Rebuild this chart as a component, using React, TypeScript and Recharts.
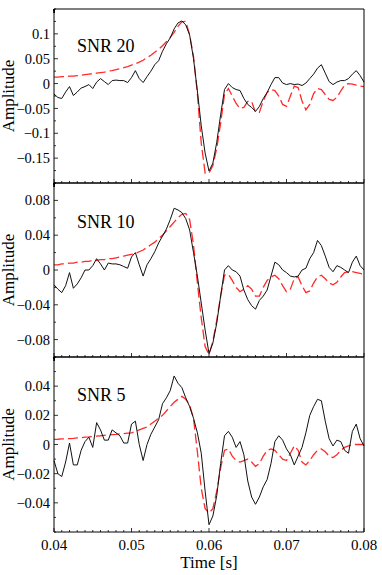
import React from "react";
import { LineChart, Line, XAxis, YAxis } from "recharts";

const FONT = "'Liberation Serif', 'Times New Roman', serif";

// sample times [s]
const time = [
  0.04, 0.0405, 0.041, 0.0415, 0.042, 0.0425, 0.043, 0.0435, 0.044, 0.0445,
  0.045, 0.0455, 0.046, 0.0465, 0.047, 0.0475, 0.048, 0.0485, 0.049, 0.0495,
  0.05, 0.0505, 0.051, 0.0515, 0.052, 0.0525, 0.053, 0.0535, 0.054, 0.0545,
  0.055, 0.0555, 0.056, 0.0565, 0.057, 0.0575, 0.058, 0.0585, 0.059, 0.0595,
  0.06, 0.0605, 0.061, 0.0615, 0.062, 0.0625, 0.063, 0.0635, 0.064, 0.0645,
  0.065, 0.0655, 0.066, 0.0665, 0.067, 0.0675, 0.068, 0.0685, 0.069, 0.0695,
  0.07, 0.0705, 0.071, 0.0715, 0.072, 0.0725, 0.073, 0.0735, 0.074, 0.0745,
  0.075, 0.0755, 0.076, 0.0765, 0.077, 0.0775, 0.078, 0.0785, 0.079, 0.0795,
  0.08,
];

// SNR 20
const snr20Noisy = [
  -0.021, -0.028, -0.03, -0.017, -0.006, -0.024, -0.017, -0.009, -0.006, -0.002,
  -0.01, 0.003, 0.01, 0.004, -0.002, 0.006, 0.007, 0.006, 0.006, 0.002,
  0.012, 0.026, 0.01, 0.002, 0.014, 0.025, 0.038, 0.046, 0.065, 0.08,
  0.092, 0.11, 0.122, 0.126, 0.118, 0.098, 0.05, -0.015, -0.085, -0.14,
  -0.176, -0.16, -0.118, -0.063, -0.012, 0.0, -0.008, -0.012, -0.014, -0.03,
  -0.042, -0.048, -0.056, -0.046, -0.03, -0.018, -0.002, 0.012, 0.012, 0.001,
  -0.002, 0.0, -0.002, -0.001, -0.004, 0.001, 0.01, 0.019, 0.031, 0.038,
  0.021, 0.004, -0.002, 0.003, 0.006, 0.006, 0.01, 0.019, 0.026, 0.016,
  0.003,
];
const snr20Model = [
  0.013, 0.013, 0.014, 0.014, 0.015, 0.015, 0.016, 0.017, 0.018, 0.019,
  0.02, 0.021, 0.022, 0.023, 0.025, 0.026, 0.028, 0.03, 0.032, 0.034,
  0.037, 0.04, 0.043, 0.047, 0.052, 0.057, 0.063, 0.069, 0.076, 0.084,
  0.093, 0.103, 0.115, 0.124, 0.125, 0.098, 0.055, -0.02, -0.12, -0.18,
  -0.18, -0.165, -0.13, -0.08, -0.022, -0.01, -0.025, -0.04, -0.05, -0.048,
  -0.036, -0.036, -0.058, -0.058, -0.035, -0.018, -0.012, -0.014, -0.025, -0.042,
  -0.046, -0.025, -0.005, -0.008, -0.035, -0.053, -0.042, -0.02, -0.01, -0.012,
  -0.022, -0.032, -0.034, -0.028, -0.015, -0.003, 0.0, -0.001, -0.003, -0.005,
  -0.006,
];

// SNR 10
const snr10Noisy = [
  -0.017, -0.022, -0.026, -0.018, -0.003, -0.021, -0.016, -0.009, 0.0, 0.0,
  0.005, 0.013, 0.007, 0.0, 0.008, 0.007, 0.007, 0.006, 0.004, 0.002,
  0.015, 0.02, 0.006, -0.007, 0.006, 0.013, 0.021, 0.031, 0.039, 0.047,
  0.058, 0.071, 0.069, 0.066, 0.059, 0.046, 0.02, -0.007, -0.038, -0.069,
  -0.096, -0.084, -0.061, -0.03, 0.0, 0.005, 0.0, -0.002, -0.007, -0.023,
  -0.034, -0.041, -0.045, -0.035, -0.03, -0.023, -0.007, 0.009, 0.006, 0.0,
  -0.003, -0.007, -0.008, -0.007, 0.0, 0.002, 0.013, 0.02, 0.034, 0.028,
  0.016, 0.003, -0.002, 0.005, 0.003, 0.0, -0.003, 0.009, 0.016, 0.005,
  0.0,
];
const snr10Model = [
  0.006, 0.006, 0.007, 0.007, 0.008, 0.008, 0.009, 0.009, 0.01, 0.01,
  0.011, 0.011, 0.012, 0.012, 0.013, 0.013, 0.014, 0.015, 0.016, 0.017,
  0.018, 0.019, 0.021, 0.023, 0.026, 0.029, 0.032, 0.036, 0.04, 0.045,
  0.05, 0.055, 0.06, 0.064, 0.065, 0.058, 0.029, -0.015, -0.055, -0.088,
  -0.097, -0.082, -0.058, -0.03, -0.006, -0.005, -0.012, -0.02, -0.025, -0.022,
  -0.018, -0.022, -0.03, -0.03, -0.02, -0.012, -0.008, -0.006, -0.01, -0.018,
  -0.025, -0.022, -0.01, -0.008, -0.018, -0.026, -0.024, -0.015, -0.008, -0.006,
  -0.01, -0.015, -0.017, -0.014, -0.008, -0.003, -0.002, -0.002, -0.003, -0.004,
  -0.005,
];

// SNR 5
const snr5Noisy = [
  -0.011, -0.02, -0.022, -0.012, 0.001, -0.014, -0.014, -0.004, 0.002, 0.005,
  -0.002, 0.015, 0.01, 0.003, 0.003, 0.01, 0.008, 0.006, 0.001, 0.001,
  0.014, 0.016, 0.0, -0.011, 0.0, 0.007, 0.012, 0.017, 0.028, 0.032,
  0.037, 0.047, 0.042, 0.039, 0.032, 0.026, 0.018, 0.008, -0.006, -0.032,
  -0.055, -0.049, -0.035, -0.013, 0.006, 0.009, 0.005, -0.002, 0.002, -0.007,
  -0.025, -0.036, -0.041, -0.036, -0.029, -0.024, -0.013, 0.002, 0.006, 0.003,
  -0.003, -0.007, -0.014, -0.008, -0.002, 0.008, 0.02, 0.026, 0.031, 0.03,
  0.016, 0.004, -0.001, 0.003, 0.002, -0.004, -0.006, 0.009, 0.014, 0.004,
  -0.001,
];
const snr5Model = [
  0.0035, 0.0036, 0.0038, 0.0039, 0.004, 0.0042, 0.0045, 0.0047, 0.005, 0.0052,
  0.0055, 0.0058, 0.006, 0.0063, 0.0065, 0.0068, 0.007, 0.0073, 0.0075, 0.0078,
  0.008, 0.009, 0.01, 0.011, 0.012, 0.014, 0.016, 0.018, 0.02, 0.023,
  0.026, 0.029, 0.031, 0.033, 0.031, 0.027, 0.018, -0.005, -0.03, -0.044,
  -0.047, -0.044, -0.032, -0.016, -0.004, -0.003, -0.008, -0.011, -0.012, -0.011,
  -0.01, -0.012, -0.015, -0.013, -0.008, -0.004, -0.003, -0.004, -0.007, -0.01,
  -0.011, -0.006, -0.001, -0.004, -0.012, -0.014, -0.011, -0.007, -0.004, -0.003,
  -0.005, -0.008, -0.009, -0.007, -0.004, -0.002, -0.001, 0.0, 0.0, 0.0,
  0.0,
];

// axis ticks
const xTicks = [
  0.04, 0.041, 0.042, 0.043, 0.044, 0.045, 0.046, 0.047, 0.048, 0.049,
  0.05, 0.051, 0.052, 0.053, 0.054, 0.055, 0.056, 0.057, 0.058, 0.059,
  0.06, 0.061, 0.062, 0.063, 0.064, 0.065, 0.066, 0.067, 0.068, 0.069,
  0.07, 0.071, 0.072, 0.073, 0.074, 0.075, 0.076, 0.077, 0.078, 0.079,
  0.08,
];
const xLabels = [0.04, 0.05, 0.06, 0.07, 0.08];

const y20Ticks = [-0.2, -0.175, -0.15, -0.125, -0.1, -0.075, -0.05, -0.025, 0, 0.025, 0.05, 0.075, 0.1, 0.125, 0.15];
const y20Labels = [-0.15, -0.1, -0.05, 0, 0.05, 0.1];
const y10Ticks = [-0.1, -0.08, -0.06, -0.04, -0.02, 0, 0.02, 0.04, 0.06, 0.08, 0.1];
const y10Labels = [-0.08, -0.04, 0, 0.04, 0.08];
const y5Ticks = [-0.06, -0.05, -0.04, -0.03, -0.02, -0.01, 0, 0.01, 0.02, 0.03, 0.04, 0.05, 0.06];
const y5Labels = [-0.04, -0.02, 0, 0.02, 0.04];

const panels = [
  { title: "SNR 20", noisy: snr20Noisy, model: snr20Model, domain: [-0.2, 0.15], ticks: y20Ticks, labels: y20Labels },
  { title: "SNR 10", noisy: snr10Noisy, model: snr10Model, domain: [-0.1, 0.1], ticks: y10Ticks, labels: y10Labels },
  { title: "SNR 5", noisy: snr5Noisy, model: snr5Model, domain: [-0.06, 0.06], ticks: y5Ticks, labels: y5Labels },
];

const fmt = (v: number) => {
  if (Math.abs(v) < 1e-12) return "0";
  const s = String(parseFloat(Math.abs(v).toFixed(4)));
  return (v < 0 ? "\u2212" : "") + s;
};

function AxisTick(props: any) {
  const { x, y, payload, side, labels, showText } = props;
  const v = payload.value;
  const major = labels.some((l: number) => Math.abs(l - v) < 1e-9);
  const len = major ? 4 : 2;
  let line = null;
  let text = null;
  if (side === "bottom") {
    line = <line x1={x} y1={y} x2={x} y2={y - len} />;
    if (showText && major)
      text = (
        <text x={x} y={y + 18} textAnchor="middle" fontSize={15} fontFamily={FONT} fill="#000">
          {fmt(v)}
        </text>
      );
  } else if (side === "top") {
    line = <line x1={x} y1={y} x2={x} y2={y + len} />;
  } else if (side === "left") {
    line = <line x1={x} y1={y} x2={x + len} y2={y} />;
    if (major)
      text = (
        <text x={x - 4} y={y} dy="0.35em" textAnchor="end" fontSize={14.5} fontFamily={FONT} fill="#000">
          {fmt(v)}
        </text>
      );
  } else {
    line = <line x1={x} y1={y} x2={x - len} y2={y} />;
  }
  return (
    <g>
      <g stroke="#000" strokeWidth={0.8}>{line}</g>
      {text}
    </g>
  );
}

function Panel({ p, top, height, bottomAxis, last }: any) {
  const data = time.map((t, i) => ({ t, noisy: p.noisy[i], model: p.model[i] }));
  const axisLine = { stroke: "#000", strokeWidth: 1 };
  return (
    <div style={{ position: "absolute", left: 0, top }}>
      <LineChart width={382} height={height} data={data} margin={{ top: 8, right: 17, bottom: 0, left: 0 }}>
        <XAxis
          xAxisId="bottom"
          dataKey="t"
          type="number"
          domain={[0.04, 0.08]}
          ticks={xTicks}
          interval={0}
          height={bottomAxis}
          tickSize={0}
          tickMargin={0}
          tickLine={false}
          axisLine={axisLine}
          tick={<AxisTick side="bottom" labels={xLabels} showText={last} />}
          label={
            last
              ? {
                  content: ({ viewBox }: any) => (
                    <text
                      x={viewBox.x + viewBox.width / 2}
                      y={viewBox.y + 36}
                      textAnchor="middle"
                      fontSize={17}
                      fontFamily={FONT}
                      fill="#000"
                    >
                      Time [s]
                    </text>
                  ),
                }
              : undefined
          }
        />
        <XAxis
          xAxisId="top"
          orientation="top"
          type="number"
          domain={[0.04, 0.08]}
          ticks={xTicks}
          interval={0}
          height={1}
          tickSize={0}
          tickMargin={0}
          tickLine={false}
          axisLine={axisLine}
          tick={<AxisTick side="top" labels={xLabels} />}
        />
        <YAxis
          yAxisId="left"
          type="number"
          domain={p.domain}
          ticks={p.ticks}
          interval={0}
          width={54}
          tickSize={0}
          tickMargin={0}
          tickLine={false}
          axisLine={axisLine}
          tick={<AxisTick side="left" labels={p.labels} />}
          label={{
            content: ({ viewBox }: any) => {
              const cx = 14;
              const cy = viewBox.y + viewBox.height / 2;
              return (
                <text
                  x={cx}
                  y={cy}
                  transform={`rotate(-90 ${cx} ${cy})`}
                  textAnchor="middle"
                  fontSize={17}
                  fontFamily={FONT}
                  fill="#000"
                >
                  Amplitude
                </text>
              );
            },
          }}
        />
        <YAxis
          yAxisId="right"
          orientation="right"
          type="number"
          domain={p.domain}
          ticks={p.ticks}
          interval={0}
          width={1}
          tickSize={0}
          tickMargin={0}
          tickLine={false}
          axisLine={axisLine}
          tick={<AxisTick side="right" labels={p.labels} />}
        />
        <Line
          xAxisId="bottom"
          yAxisId="left"
          type="linear"
          dataKey="model"
          stroke="#ff2a2a"
          strokeWidth={1.3}
          strokeDasharray="10 4"
          dot={false}
          activeDot={false}
          isAnimationActive={false}
        />
        <Line
          xAxisId="bottom"
          yAxisId="left"
          type="linear"
          dataKey="noisy"
          stroke="#111"
          strokeWidth={1}
          dot={false}
          activeDot={false}
          isAnimationActive={false}
        />
      </LineChart>
    </div>
  );
}

export default function App() {
  return (
    <div
      style={{
        position: "absolute",
        left: 0,
        top: 0,
        width: 382,
        height: 575,
        background: "#fff",
        overflow: "hidden",
      }}
    >
      <Panel p={panels[0]} top={0} height={184} bottomAxis={1} last={false} />
      <Panel p={panels[1]} top={174} height={184} bottomAxis={1} last={false} />
      <Panel p={panels[2]} top={348} height={227} bottomAxis={43} last={true} />
      <svg width={382} height={575} style={{ position: "absolute", left: 0, top: 0, pointerEvents: "none" }}>
        <text x={77} y={52} fontSize={18} fontFamily={FONT} fill="#000">{panels[0].title}</text>
        <text x={77} y={228} fontSize={18} fontFamily={FONT} fill="#000">{panels[1].title}</text>
        <text x={77} y={401} fontSize={18} fontFamily={FONT} fill="#000">{panels[2].title}</text>
      </svg>
    </div>
  );
}
